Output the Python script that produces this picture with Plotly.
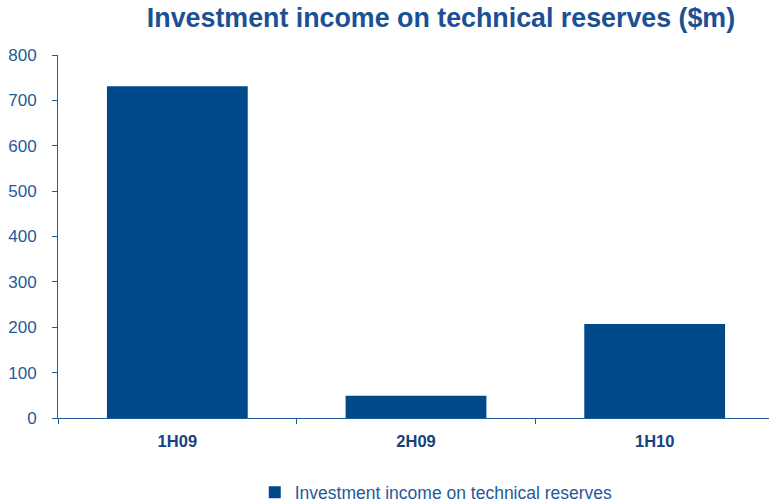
import plotly.graph_objects as go

categories = ["1H09", "2H09", "1H10"]
values = [731, 49, 207]
series_name = "Investment income on technical reserves"
title_text = "Investment income on technical reserves ($m)"
y_ticks = [0, 100, 200, 300, 400, 500, 600, 700, 800]

bar_color = "#004A8B"
text_blue = "#1F5A9A"
dark_blue = "#17427C"

fig = go.Figure()
fig.add_trace(go.Bar(
    x=categories, y=values, name=series_name,
    marker=dict(color=bar_color, line=dict(width=0)),
    showlegend=True,
))

fig.update_layout(
    width=769, height=503,
    paper_bgcolor="white", plot_bgcolor="white",
    margin=dict(l=58, r=0, t=55, b=85, autoexpand=False),
    bargap=0.41,
    font=dict(family="Liberation Sans, Arial, sans-serif", color=text_blue),
    title=dict(
        text="<b>" + title_text + "</b>",
        x=441 / 769, xref="container", xanchor="center",
        y=1 - 18 / 503, yref="container", yanchor="middle",
        font=dict(size=26.8, color="#1B5194"),
    ),
    showlegend=True,
    legend=dict(
        orientation="h", x=0.532, xanchor="center", y=-0.205, yanchor="middle",
        font=dict(size=17.5, color=text_blue),
        itemwidth=30,
    ),
    xaxis=dict(
        range=[-0.5, 2.479], automargin=False,
        showline=True, linecolor=text_blue, linewidth=1,
        ticks="outside", tickson="boundaries", ticklen=5, tickcolor=text_blue,
        ticklabelstandoff=8,
        tickfont=dict(size=16.5, color=dark_blue, family="Liberation Sans, Arial, sans-serif"),
        tickprefix="<b>", ticksuffix="</b>",
        showgrid=False, zeroline=False,
    ),
    yaxis=dict(
        range=[0, 800], tickvals=y_ticks, automargin=False,
        showline=True, linecolor=text_blue, linewidth=1,
        ticks="outside", ticklen=5, tickcolor=text_blue,
        ticklabelstandoff=12,
        tickfont=dict(size=17, color=text_blue),
        showgrid=False, zeroline=False,
    ),
)

fig.write_html(
    "out.html",
    config={"displayModeBar": False},
    post_script="document.body.style.margin='0';document.body.style.overflow='hidden';",
)
